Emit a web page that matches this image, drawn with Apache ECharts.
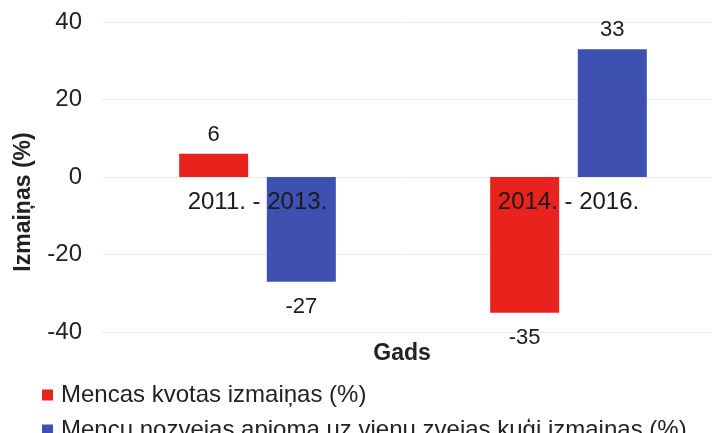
<!DOCTYPE html>
<html>
<head>
<meta charset="utf-8">
<script src="https://cdn.jsdelivr.net/npm/echarts@6/dist/echarts.min.js"></script>
<style>
  html, body { margin: 0; padding: 0; background: #fff; }
  #chart { width: 712px; height: 433px; }
</style>
</head>
<body>
<div id="chart"></div>
<script>
var periods = ["2011. - 2013.", "2014. - 2016."];
var quotaChange = [6, -35];
var catchPerVessel = [-27, 33];
var seriesNames = ["Mencas kvotas izmaiņas (%)", "Mencu nozvejas apjoma uz vienu zvejas kuģi izmaiņas (%)"];

var font = "Liberation Sans, Arial, sans-serif";
var chart = echarts.init(document.getElementById("chart"));

// negative bars get their label underneath
function withLabels(values) {
    return values.map(function (v) {
        return {
            value: v,
            label: { position: v < 0 ? "bottom" : "top", distance: v < 0 ? 14 : 8 }
        };
    });
}

var barLabel = {
    show: true,
    fontSize: 22,
    fontFamily: font,
    color: "#1a1a1a"
};

// one legend per row so the second one may run past the bottom edge like the original
function legendRow(name, top) {
    return {
        orient: "vertical",
        left: 37,
        top: top,
        height: 40,
        icon: "rect",
        itemWidth: 11,
        itemHeight: 11,
        textStyle: { fontSize: 24, lineHeight: 24, color: "#222", fontFamily: font, padding: [0, 0, 0, 3] },
        data: [name]
    };
}

chart.setOption({
    animation: false,
    textStyle: { fontFamily: font },
    grid: { left: 102, top: 22, width: 622, height: 310, outerBoundsMode: "none", containLabel: false },
    legend: [legendRow(seriesNames[0], 378), legendRow(seriesNames[1], 413)],
    xAxis: {
        type: "category",
        data: periods,
        offset: -155,
        name: "Gads",
        nameLocation: "middle",
        nameGap: 165,
        nameTextStyle: { fontSize: 23, fontWeight: "bold", color: "#222", fontFamily: font, padding: [0, 22, 0, 0] },
        axisLine: { onZero: false, show: false },
        axisTick: { show: false },
        axisLabel: { fontSize: 24, color: "#1a1a1a", margin: 13, fontFamily: font },
        z: 10
    },
    yAxis: {
        type: "value",
        min: -40,
        max: 40,
        interval: 20,
        name: "Izmaiņas (%)",
        nameLocation: "middle",
        nameGap: 67,
        nameRotate: 90,
        nameTextStyle: { fontSize: 23, fontWeight: "bold", color: "#222", fontFamily: font, padding: [0, 50, 0, 0] },
        axisLine: { show: false },
        axisTick: { show: false },
        splitLine: { lineStyle: { color: "#ebebeb" } },
        axisLabel: { fontSize: 24, color: "#222", margin: 20, fontFamily: font }
    },
    series: [
        {
            name: seriesNames[0],
            type: "bar",
            data: withLabels(quotaChange),
            barWidth: 69,
            barGap: "27%",
            itemStyle: { color: "#e8231d" },
            label: barLabel
        },
        {
            name: seriesNames[1],
            type: "bar",
            data: withLabels(catchPerVessel),
            barWidth: 69,
            barGap: "27%",
            itemStyle: { color: "#3f51b0" },
            label: barLabel
        }
    ]
});
</script>
</body>
</html>
